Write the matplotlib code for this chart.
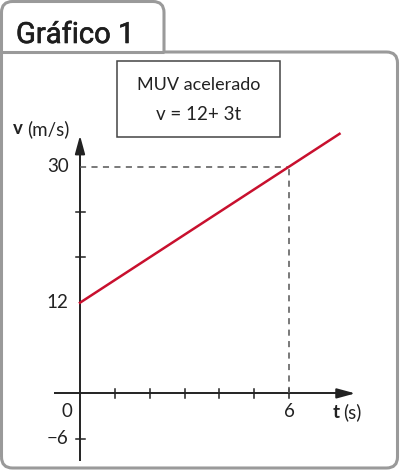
import matplotlib
matplotlib.use("Agg")
import matplotlib.pyplot as plt
import matplotlib.patheffects as pe
from matplotlib.patches import PathPatch, Rectangle
from matplotlib.path import Path
import numpy as np

# data
t_line = [0, 7.45]
v0 = 12
a = 3
t_mark = 6
v_mark = 30
x_ticks = [1, 2, 3, 4, 5, 6]
y_ticks = [-6, 18, 24]
y_labels = {30: "30", 12: "12", -6: "\u22126"}
title = "Gráfico 1"
box_lines = ["MUV acelerado", "v = 12+ 3t"]

W, H = 400, 471
plt.rcParams['font.family'] = ['Lato', 'DejaVu Sans']

fig = plt.figure(figsize=(W / 100, H / 100), dpi=100)

# background axes in pixel units
bg = fig.add_axes([0, 0, 1, 1])
bg.set_xlim(0, W)
bg.set_ylim(H, 0)
bg.axis('off')

# frame outline: tab + body in one path
frame_col = '#9a9a9a'
L, R, T, B = 1.5, 397.5, 1.5, 468.0
tab_r, tab_y, r = 164.0, 52.0, 11.0
verts = [
    (L, B - r), (L, T + r), (L, T), (L + r, T),
    (tab_r - r, T), (tab_r, T), (tab_r, T + r),
    (tab_r, tab_y), (R - r, tab_y), (R, tab_y), (R, tab_y + r),
    (R, B - r), (R, B), (R - r, B),
    (L + r, B), (L, B), (L, B - r),
]
codes = [Path.MOVETO, Path.LINETO, Path.CURVE3, Path.CURVE3,
         Path.LINETO, Path.CURVE3, Path.CURVE3,
         Path.LINETO, Path.LINETO, Path.CURVE3, Path.CURVE3,
         Path.LINETO, Path.CURVE3, Path.CURVE3,
         Path.LINETO, Path.CURVE3, Path.CURVE3]
bg.add_patch(PathPatch(Path(verts, codes), fc='white', ec=frame_col, lw=2.2, joinstyle='round'))
bg.plot([L, tab_r], [tab_y, tab_y], color=frame_col, lw=2.2, solid_capstyle='butt')
bg.text(16, 43, title, fontsize=21, family=['Roboto', 'DejaVu Sans'], weight='normal',
        color='#1e1e1e', ha='left', va='baseline',
        path_effects=[pe.withStroke(linewidth=0.45, foreground='#1e1e1e')])

# equation box
bg.add_patch(Rectangle((117, 61), 163, 75.5, fc='white', ec='#444444', lw=1.1, zorder=4))
bg.text(198.5, 85, box_lines[0], fontsize=13, ha='center', va='center', color='#222222', zorder=5)
bg.text(198.5, 114, box_lines[1], fontsize=13.5, ha='center', va='center', color='#222222', zorder=5)

# data axes: t=0 -> x 80, t=6 -> x 289 ; v=0 -> y 393.4, v=30 -> y 166.7
sx = (289 - 80) / 6.0
sy = (393.4 - 166.7) / 30.0
t_lo, t_hi = -1.5, 9.0
v_lo, v_hi = -10.0, 38.0
left = (80 + t_lo * sx) / W
right = (80 + t_hi * sx) / W
bottom = 1 - (393.4 - v_lo * sy) / H
top = 1 - (393.4 - v_hi * sy) / H
ax = fig.add_axes([left, bottom, right - left, top - bottom])
ax.set_xlim(t_lo, t_hi)
ax.set_ylim(v_lo, v_hi)
ax.axis('off')
ax.patch.set_alpha(0)

axis_col = '#222222'
# axes with arrows
ax.plot([-0.75, 7.6], [0, 0], color=axis_col, lw=1.4, solid_capstyle='butt')
ax.annotate('', xy=(7.98, 0), xytext=(7.4, 0),
            arrowprops=dict(arrowstyle='-|>,head_length=1.1,head_width=0.3', color=axis_col, lw=1.4))
ax.plot([0, 0], [-9.0, 32.8], color=axis_col, lw=1.4, solid_capstyle='butt')
ax.annotate('', xy=(0, 34.5), xytext=(0, 31.5),
            arrowprops=dict(arrowstyle='-|>,head_length=1.1,head_width=0.3', color=axis_col, lw=1.4))

# ticks
tl = 4.5
for xt in x_ticks:
    ax.plot([xt, xt], [-tl / sy, tl / sy], color=axis_col, lw=1.1)
for yt in y_ticks:
    ax.plot([-tl / sx, tl / sx], [yt, yt], color=axis_col, lw=1.1)

# dashed guides
ax.plot([0, t_mark], [v_mark, v_mark], color='#555555', lw=1.1, dashes=(4, 3.5))
ax.plot([t_mark, t_mark], [0, v_mark], color='#555555', lw=1.1, dashes=(4, 3.5))

# velocity line
t = np.array(t_line)
ax.plot(t, v0 + a * t, color='#c8102e', lw=1.8, zorder=5)

# labels
fs = 13.5
lab_off = -11.5 / sx
for v, s in y_labels.items():
    ax.text(lab_off, v, s, fontsize=fs, ha='right', va='center', color='#222222')
ax.text(-13 / sx, -18.5 / sy, "0", fontsize=fs, ha='center', va='center', color='#222222')
ax.text(t_mark, -18.5 / sy, "6", fontsize=fs, ha='center', va='center', color='#222222')

bg.text(13, 129, "v", fontsize=fs, weight='bold', ha='left', va='center', color='#222222')
bg.text(27, 129, "(m/s)", fontsize=fs, ha='left', va='center', color='#222222')
bg.text(333, 412, "t", fontsize=fs, weight='bold', ha='left', va='center', color='#222222')
bg.text(343, 412, "(s)", fontsize=fs, ha='left', va='center', color='#222222')

fig.savefig("out.png", dpi=100)
